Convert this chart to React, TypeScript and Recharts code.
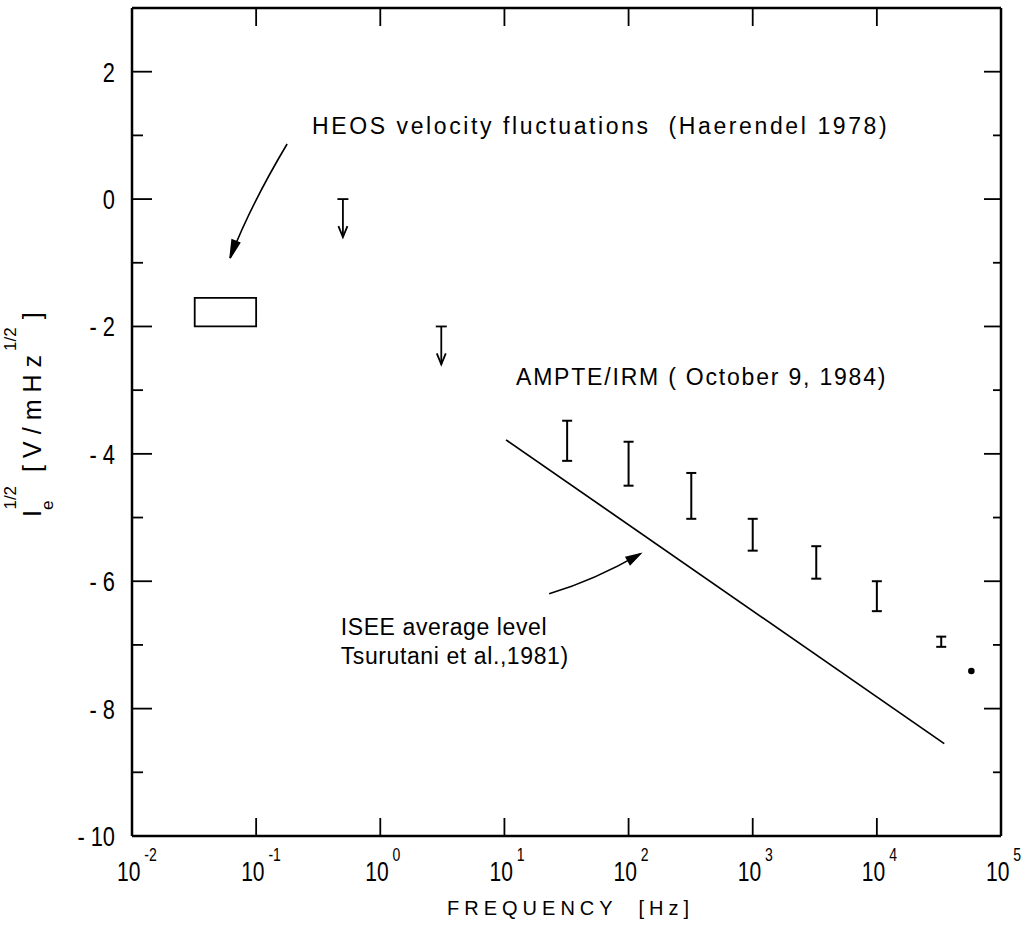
import React from 'react';
import { ComposedChart, XAxis, YAxis, Scatter, Line, ErrorBar, ReferenceArea, ReferenceDot, Label } from 'recharts';

// frequency axis (log) and level axis
const freqTicks = [0.01, 0.1, 1, 10, 100, 1000, 10000, 100000];
const freqExponents = ['-2', '-1', '0', '1', '2', '3', '4', '5'];
const levelTicks = [-10, -9, -8, -7, -6, -5, -4, -3, -2, -1, 0, 1, 2];

// HEOS velocity fluctuations box
const heosFreq = [0.032, 0.1];
const heosLevel = [-2.0, -1.55];

// upper limits (arrows)
const limitFreq = [0.5, 3.1];
const limitTop = [0, -2];

// AMPTE/IRM error bars
const ampteFreq = [32, 100, 320, 1000, 3250, 10000, 33000];
const ampteLow = [-4.11, -4.5, -5.02, -5.52, -5.96, -6.47, -7.03];
const ampteHigh = [-3.48, -3.81, -4.3, -5.02, -5.45, -6.0, -6.87];

// single point
const dotFreq = [57700];
const dotLevel = [-7.41];

// ISEE average level
const iseeFreq = [10.3, 34900];
const iseeLevel = [-3.78, -8.55];

const ampteData = ampteFreq.map((f, i) => {
  const half = (ampteHigh[i] - ampteLow[i]) / 2;
  return { f, v: ampteLow[i] + half, err: half };
});
const limitData = limitFreq.map((f, i) => ({ f, v: limitTop[i] }));
const dotData = dotFreq.map((f, i) => ({ f, v: dotLevel[i] }));
const iseeData = iseeFreq.map((f, i) => ({ f, v: iseeLevel[i] }));

const W = 1029;
const H = 927;
const LEFT_W = 132; // width of the left axis = x of the left frame line
const font = "'Liberation Sans', Arial, sans-serif";

// narrow digits: squeeze the glyphs horizontally
const Narrow = ({ x, y, anchor, size, children }: any) => (
  <g transform={`translate(${x},${y}) scale(0.78,1)`}>
    <text x={0} y={0} textAnchor={anchor} fontSize={size} fontFamily={font} fill="#000" style={{ whiteSpace: 'pre' }}>
      {children}
    </text>
  </g>
);

const BottomTick = (p: any) => (
  <g>
    <line x1={p.x} x2={p.x} y1={p.y} y2={p.y - 18} stroke="#000" strokeWidth={1.8} />
    <Narrow x={p.x - 15} y={p.y + 45} anchor="start" size={27}>
      10
      <tspan dx={5} dy={-20} fontSize={18}>{freqExponents[p.index]}</tspan>
    </Narrow>
  </g>
);

const TopTick = (p: any) => (
  <line x1={p.x} x2={p.x} y1={p.y} y2={p.y + 18} stroke="#000" strokeWidth={1.8} />
);

const LeftTick = (p: any) => {
  const v = p.payload.value;
  const major = v % 2 === 0;
  return (
    <g>
      <line x1={LEFT_W} x2={LEFT_W + (major ? 20 : 11)} y1={p.y} y2={p.y} stroke="#000" strokeWidth={1.8} />
      {major && (
        <Narrow x={LEFT_W - 17} y={p.y + 10} anchor="end" size={28}>
          {v < 0 ? `- ${-v}` : `${v}`}
        </Narrow>
      )}
    </g>
  );
};

const RightTick = (p: any) => {
  const major = p.payload.value % 2 === 0;
  return <line x1={p.x} x2={p.x - (major ? 17 : 8)} y1={p.y} y2={p.y} stroke="#000" strokeWidth={1.8} />;
};

const XTitle = (p: any) => {
  const vb = p.viewBox;
  return (
    <text x={vb.x + vb.width / 2 + 4} y={vb.y + 79} textAnchor="middle" fontSize={20} letterSpacing={5} fontFamily={font} fill="#000" style={{ whiteSpace: 'pre' }}>
      FREQUENCY  [Hz]
    </text>
  );
};

const YTitle = (p: any) => {
  const vb = p.viewBox;
  const x = vb.x + 41;
  const y = vb.y + vb.height / 2 + 95;
  return (
    <text x={x} y={y} transform={`rotate(-90, ${x}, ${y})`} fontSize={25} fontFamily={font} fill="#000" style={{ whiteSpace: 'pre' }}>
      I
      <tspan dy={12} fontSize={17}>e</tspan>
      <tspan dx={-9} dy={-37} fontSize={17}>1/2</tspan>
      <tspan dx={14} dy={25} letterSpacing={7}>[V/mHz</tspan>
      <tspan dx={-3} dy={-25} fontSize={17}>1/2</tspan>
      <tspan dx={8} dy={25}>]</tspan>
    </text>
  );
};

const LimitArrow = (p: any) => {
  const { cx, cy } = p;
  return (
    <g stroke="#000" strokeWidth={1.8} fill="none">
      <line x1={cx - 5.5} x2={cx + 5.5} y1={cy} y2={cy} />
      <line x1={cx} x2={cx} y1={cy} y2={cy + 38} />
      <path d={`M${cx - 4.5},${cy + 27} L${cx},${cy + 38} L${cx + 4.5},${cy + 27}`} />
    </g>
  );
};

const Dot = (p: any) => <circle cx={p.cx} cy={p.cy} r={3.3} fill="#000" />;
const Nothing = () => <g />;

const note = (lines: string[], spacing: number) => (p: any) => (
  <text x={p.cx} y={p.cy} fontSize={23} letterSpacing={spacing} fontFamily={font} fill="#000" style={{ whiteSpace: 'pre' }}>
    {lines.map((l, i) => (
      <tspan key={i} x={p.cx} dy={i === 0 ? 0 : 29}>{l}</tspan>
    ))}
  </text>
);

const HeosArrow = (p: any) => {
  const { cx, cy } = p;
  return (
    <g stroke="#000" strokeWidth={1.6}>
      <path d={`M${cx + 57},${cy - 114} Q${cx + 20},${cy - 52} ${cx},${cy}`} fill="none" />
      <path d={`M${cx},${cy} L${cx + 9.5},${cy - 15} L${cx + 2},${cy - 18} Z`} fill="#000" />
    </g>
  );
};

const IseeArrow = (p: any) => {
  const { cx, cy } = p;
  return (
    <g stroke="#000" strokeWidth={1.6}>
      <path d={`M${cx - 91},${cy + 40} Q${cx - 45},${cy + 26} ${cx},${cy}`} fill="none" />
      <path d={`M${cx},${cy} L${cx - 10},${cy + 10.5} L${cx - 14},${cy + 3.5} Z`} fill="#000" />
    </g>
  );
};

export default function App() {
  const axisLine = { stroke: '#000', strokeWidth: 2.5 };
  return (
    <div style={{ position: 'absolute', left: 0, top: 0, background: '#fff' }}>
      <ComposedChart width={W} height={H} margin={{ top: 7, right: 27, bottom: 0, left: 0 }}>
        <XAxis
          dataKey="f" type="number" scale="log" domain={[0.01, 100000]} allowDataOverflow
          ticks={freqTicks} interval={0} tickSize={0} tickMargin={0} tickLine={false}
          axisLine={axisLine} tick={BottomTick} height={91}
        >
          <Label content={XTitle} />
        </XAxis>
        <XAxis
          xAxisId="top" orientation="top" dataKey="f" type="number" scale="log" domain={[0.01, 100000]} allowDataOverflow
          ticks={freqTicks} interval={0} tickSize={0} tickMargin={0} tickLine={false}
          axisLine={axisLine} tick={TopTick} height={1}
        />
        <YAxis
          type="number" domain={[-10, 3]} allowDataOverflow ticks={levelTicks} interval={0}
          tickSize={0} tickMargin={0} tickLine={false} axisLine={axisLine} tick={LeftTick} width={LEFT_W}
        >
          <Label content={YTitle} />
        </YAxis>
        <YAxis
          yAxisId="right" orientation="right" type="number" domain={[-10, 3]} allowDataOverflow ticks={levelTicks}
          interval={0} tickSize={0} tickMargin={0} tickLine={false} axisLine={axisLine} tick={RightTick} width={1}
        />

        <ReferenceArea x1={heosFreq[0]} x2={heosFreq[1]} y1={heosLevel[0]} y2={heosLevel[1]} fill="none" fillOpacity={0} stroke="#000" strokeWidth={1.8} />

        <Line data={iseeData} dataKey="v" stroke="#000" strokeWidth={1.7} dot={false} isAnimationActive={false} />

        <Scatter data={ampteData} dataKey="v" shape={Nothing} isAnimationActive={false}>
          <ErrorBar dataKey="err" direction="y" width={5} stroke="#000" strokeWidth={2} isAnimationActive={false} />
        </Scatter>
        <Scatter data={limitData} dataKey="v" shape={LimitArrow} isAnimationActive={false} />
        <Scatter data={dotData} dataKey="v" shape={Dot} isAnimationActive={false} />

        <ReferenceDot x={0.0617} y={-0.925} r={0} shape={HeosArrow} />
        <ReferenceDot x={124} y={-5.57} r={0} shape={IseeArrow} />
        <ReferenceDot x={0.282} y={1.02} r={0} shape={note(['HEOS velocity fluctuations  (Haerendel 1978)'], 2.6)} />
        <ReferenceDot x={12.4} y={-2.92} r={0} shape={note(['AMPTE/IRM ( October 9, 1984)'], 1.8)} />
        <ReferenceDot x={0.48} y={-6.84} r={0} shape={note(['ISEE average level', 'Tsurutani et al.,1981)'], 0.6)} />
      </ComposedChart>
    </div>
  );
}
